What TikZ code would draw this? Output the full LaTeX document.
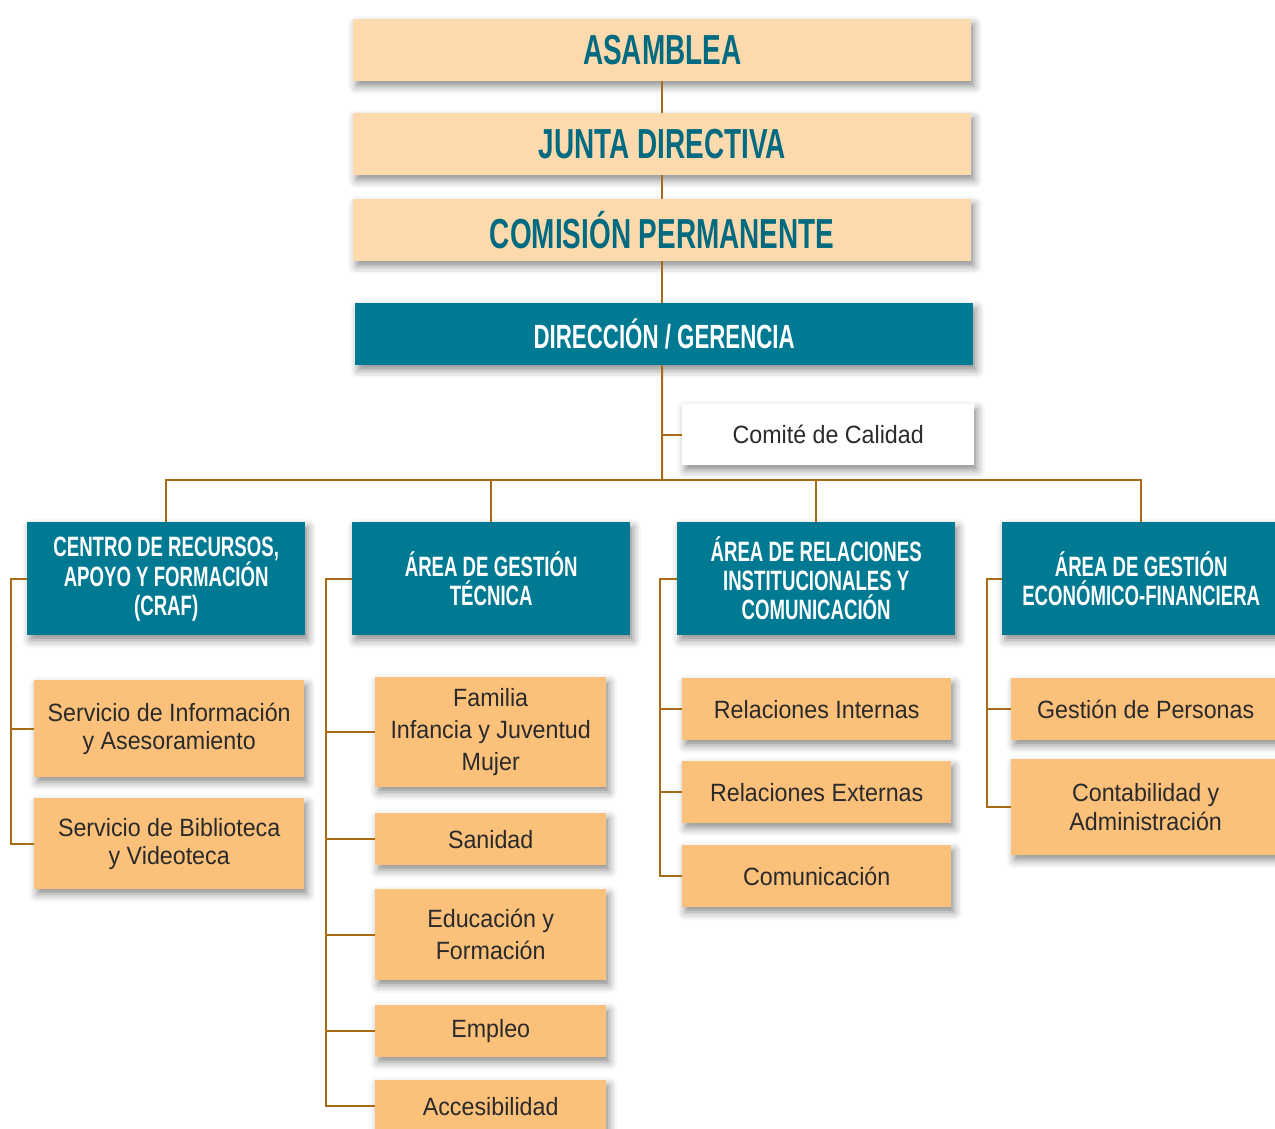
\documentclass[tikz,border=0pt]{standalone}
\usepackage{fontspec}
\setmainfont{Liberation Sans}
\newfontfamily\headfont{Liberation Sans}[FakeStretch=0.665]
\newfontfamily\childfont{Liberation Sans}[FakeStretch=0.93]
\usetikzlibrary{shadows.blur,calc}
\definecolor{peachlight}{HTML}{FDDAAE}
\definecolor{peach}{HTML}{FBC07A}
\definecolor{teal}{HTML}{007A92}
\definecolor{tealtext}{HTML}{006B80}
\definecolor{linecol}{HTML}{A86A12}
\definecolor{textdark}{HTML}{2A2A2A}
\tikzset{
  shd/.style={blur shadow={shadow xshift=3pt,shadow yshift=-5pt,shadow blur radius=8pt,shadow opacity=45}},
  topbox/.style={shd,fill=peachlight,draw=none,anchor=north west,minimum width=618pt,minimum height=62pt,inner sep=0pt,
    text=tealtext,font=\headfont\bfseries\fontsize{42}{44}\selectfont},
  dirbox/.style={shd,fill=teal,draw=none,anchor=north west,minimum width=618pt,minimum height=62pt,inner sep=0pt,
    text=white,font=\headfont\bfseries\fontsize{33.5}{35}\selectfont},
  areabox/.style={shd,fill=teal,draw=none,anchor=north west,minimum width=278pt,minimum height=113pt,inner sep=0pt,
    text=white,align=center,font=\headfont\bfseries\fontsize{28}{29}\selectfont},
  childbox/.style={shd,fill=peach,draw=none,anchor=north west,inner sep=0pt,
    text=textdark,align=center,font=\childfont\fontsize{25}{32}\selectfont},
  whitebox/.style={shd,fill=white,draw=none,anchor=north west,minimum width=292pt,minimum height=61pt,inner sep=0pt,
    text=textdark,font=\childfont\fontsize{25}{31}\selectfont},
  conn/.style={draw=linecol,line width=2pt}
}
\begin{document}
\begin{tikzpicture}[x=1pt,y=-1pt]
\useasboundingbox (0,0) rectangle (1275,1129);
% top chain
\node[topbox] (asam) at (353,19) {ASAMBLEA};
\node[topbox] (junta) at (353,113) {JUNTA DIRECTIVA};
\node[topbox] (comis) at (353,199) {COMISIÓN PERMANENTE};
\node[dirbox] (direc) at (355,303) {DIRECCIÓN / GERENCIA};
\node[whitebox] (comite) at (682,404) {Comité de Calidad};
% areas
\node[areabox] (craf) at (27,522) {CENTRO DE RECURSOS,\\APOYO Y FORMACIÓN\\(CRAF)};
\node[areabox] (tec) at (352,522) {ÁREA DE GESTIÓN\\TÉCNICA};
\node[areabox] (rel) at (677,522) {ÁREA DE RELACIONES\\INSTITUCIONALES Y\\COMUNICACIÓN};
\node[areabox] (eco) at (1002,522) {ÁREA DE GESTIÓN\\ECONÓMICO-FINANCIERA};
% CRAF children
\node[childbox,minimum width=270pt,minimum height=97pt] (sia) at (34,680) {\rule{0pt}{0pt}\raisebox{-3pt}{\parbox{260pt}{\centering Servicio de Información\\[-4pt]y Asesoramiento}}};
\node[childbox,minimum width=270pt,minimum height=91pt] (sbv) at (34,798) {\raisebox{-3pt}{\parbox{260pt}{\centering Servicio de Biblioteca\\[-4pt]y Videoteca}}};
% Tecnica children
\node[childbox,minimum width=231pt,minimum height=110pt] (fam) at (375,677) {\raisebox{-3pt}{\parbox{225pt}{\centering Familia\\Infancia y Juventud\\Mujer}}};
\node[childbox,minimum width=231pt,minimum height=52pt] (san) at (375,813) {Sanidad};
\node[childbox,minimum width=231pt,minimum height=91pt] (edu) at (375,889) {Educación y\\Formación};
\node[childbox,minimum width=231pt,minimum height=52pt] (emp) at (375,1005) {Empleo};
\node[childbox,minimum width=231pt,minimum height=52pt] (acc) at (375,1080) {Accesibilidad};
% Relaciones children
\node[childbox,minimum width=269pt,minimum height=62pt] (rint) at (682,678) {Relaciones Internas};
\node[childbox,minimum width=269pt,minimum height=62pt] (rext) at (682,761) {Relaciones Externas};
\node[childbox,minimum width=269pt,minimum height=62pt] (com) at (682,845) {Comunicación};
% Economica children
\node[childbox,minimum width=269pt,minimum height=62pt] (gper) at (1011,678) {Gestión de Personas};
\node[childbox,minimum width=269pt,minimum height=96pt] (cont) at (1011,759) {\raisebox{-2pt}{\parbox{260pt}{\centering Contabilidad y\\[-3pt]Administración}}};
% connectors
\coordinate (bus) at (662,480);
\draw[conn] (asam.south) -- (junta.north);
\draw[conn] (junta.south) -- (comis.north);
\draw[conn] (comis.south) -- (comis.south |- direc.north);
\draw[conn] (comis.south |- direc.south) -- (bus);
\draw[conn] (comite.west) -- (comite.west -| bus);
\draw[conn] (craf.north) |- (bus) -| (eco.north);
\draw[conn] (tec.north) -- (tec.north |- bus);
\draw[conn] (rel.north) -- (rel.north |- bus);
% CRAF bracket
\draw[conn] (craf.west) -- ++(-16,0) coordinate (s1) |- (sbv.west);
\draw[conn] (s1 |- sia.west) -- (sia.west);
% Tecnica bracket
\draw[conn] (tec.west) -- ++(-26,0) coordinate (s2) |- (acc.west);
\draw[conn] (s2 |- fam.west) -- (fam.west);
\draw[conn] (s2 |- san.west) -- (san.west);
\draw[conn] (s2 |- edu.west) -- (edu.west);
\draw[conn] (s2 |- emp.west) -- (emp.west);
% Relaciones bracket
\draw[conn] (rel.west) -- ++(-17,0) coordinate (s3) |- (com.west);
\draw[conn] (s3 |- rint.west) -- (rint.west);
\draw[conn] (s3 |- rext.west) -- (rext.west);
% Economica bracket
\draw[conn] (eco.west) -- ++(-15,0) coordinate (s4) |- (cont.west);
\draw[conn] (s4 |- gper.west) -- (gper.west);
\end{tikzpicture}
\end{document}
